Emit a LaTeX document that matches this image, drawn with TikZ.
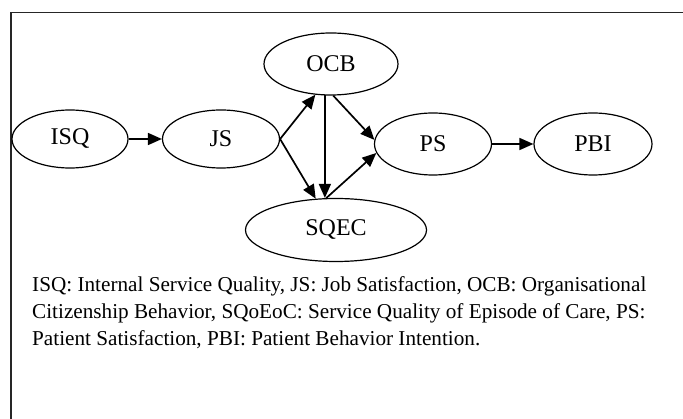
\documentclass[tikz,border=0pt]{standalone}
\usepackage{fontspec}
\setmainfont{Liberation Serif}
\usetikzlibrary{shapes.geometric,arrows.meta}
\begin{document}
\begin{tikzpicture}[x=1pt,y=-1pt,
  oval/.style={ellipse,draw,line width=1.2pt,inner sep=0pt,font=\fontsize{24}{24}\selectfont},
  arr/.style={line width=1.7pt,-{Triangle[length=14pt,width=12pt]}},
  frame/.style={line width=1.5pt,draw=black!85}]
\useasboundingbox (0,0) rectangle (683,419);
\draw[frame] (11,419) -- (11,12.7) -- (683,12.7);
\node[oval,minimum width=116pt,minimum height=58pt] (ISQ) at (70,139) {ISQ};
\node[oval,minimum width=117pt,minimum height=58pt] (JS) at (221,139) {JS};
\node[oval,minimum width=134pt,minimum height=62pt] (OCB) at (331,64) {OCB};
\node[oval,minimum width=181pt,minimum height=63pt] (SQEC) at (336,230) {SQEC};
\node[oval,minimum width=117pt,minimum height=62pt] (PS) at (433,144) {PS};
\node[oval,minimum width=118pt,minimum height=62pt] (PBI) at (593,144) {PBI};
\draw[arr] (ISQ.east) -- (JS.west);
\draw[arr] (JS.east) -- (OCB.-117);
\draw[arr] (JS.east) -- (SQEC.123);
\draw[arr] (OCB.-101) -- (OCB.-101 |- SQEC.north);
\draw[arr] (OCB.-86) -- (PS.176);
\draw[arr] (SQEC.107) -- (PS.-171);
\draw[arr] (PS.east) -- (PBI.west);
\node[anchor=base west,inner sep=0pt,align=left,font=\fontsize{21.2}{27}\selectfont] (cap) at (32,346)
 {ISQ: Internal Service Quality, JS: Job Satisfaction, OCB: Organisational\\
  Citizenship Behavior, SQoEoC: Service Quality of Episode of Care, PS:\\
  Patient Satisfaction, PBI: Patient Behavior Intention.};
\end{tikzpicture}
\end{document}
